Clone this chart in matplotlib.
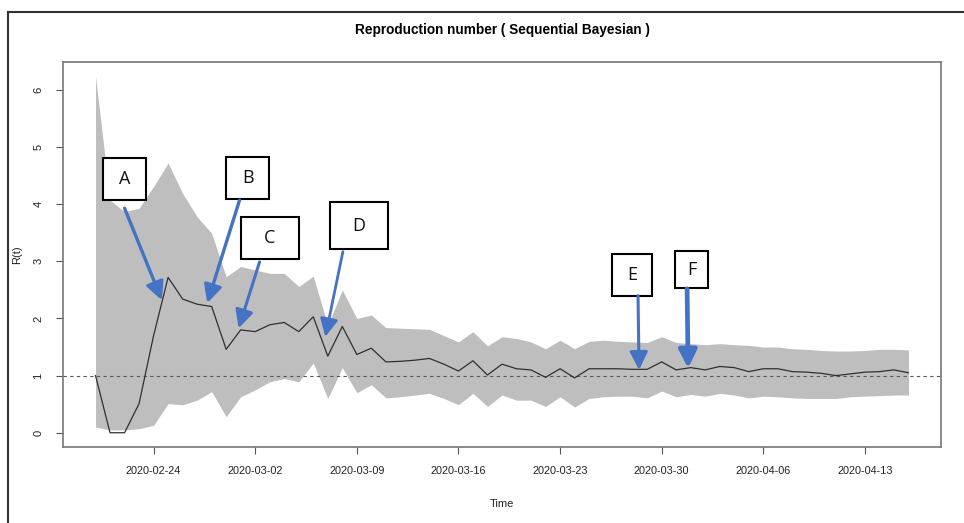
import numpy as np
import pandas as pd
import matplotlib
matplotlib.use("Agg")
import matplotlib.pyplot as plt
import matplotlib.dates as mdates
from matplotlib.patches import Rectangle
from matplotlib.lines import Line2D

# ---------------- data ----------------
start_date = "2020-02-20"
r_mean = [1.00, 0.00, 0.00, 0.51, 1.70, 2.72, 2.34, 2.25, 2.21, 1.46,
          1.80, 1.77, 1.89, 1.93, 1.77, 2.03, 1.34, 1.86, 1.37, 1.48,
          1.24, 1.25, 1.27, 1.30, 1.20, 1.08, 1.26, 1.01, 1.20, 1.12,
          1.10, 0.97, 1.12, 0.96, 1.12, 1.12, 1.12, 1.11, 1.11, 1.24,
          1.10, 1.14, 1.10, 1.16, 1.14, 1.07, 1.12, 1.12, 1.07, 1.06,
          1.04, 1.00, 1.03, 1.06, 1.07, 1.10, 1.05]
r_upper = [6.24, 4.07, 3.87, 3.93, 4.31, 4.72, 4.19, 3.78, 3.49, 2.73,
           2.91, 2.85, 2.79, 2.79, 2.56, 2.74, 1.88, 2.50, 2.00, 2.06,
           1.84, 1.83, 1.82, 1.81, 1.70, 1.59, 1.77, 1.52, 1.68, 1.65,
           1.59, 1.47, 1.62, 1.47, 1.60, 1.62, 1.60, 1.59, 1.58, 1.68,
           1.58, 1.56, 1.54, 1.56, 1.54, 1.53, 1.50, 1.50, 1.47, 1.46,
           1.44, 1.43, 1.43, 1.44, 1.46, 1.46, 1.45]
r_lower = [0.10, 0.05, 0.05, 0.07, 0.13, 0.51, 0.49, 0.57, 0.72, 0.28,
           0.63, 0.75, 0.89, 0.95, 0.89, 1.22, 0.60, 1.14, 0.70, 0.84,
           0.61, 0.63, 0.66, 0.69, 0.60, 0.49, 0.69, 0.46, 0.66, 0.57,
           0.57, 0.46, 0.63, 0.45, 0.60, 0.63, 0.64, 0.64, 0.61, 0.73,
           0.63, 0.67, 0.64, 0.69, 0.66, 0.61, 0.64, 0.63, 0.61, 0.60,
           0.60, 0.60, 0.63, 0.64, 0.65, 0.66, 0.66]
x_tick_labels = ["2020-02-24", "2020-03-02", "2020-03-09", "2020-03-16",
                 "2020-03-23", "2020-03-30", "2020-04-06", "2020-04-13"]
y_ticks = [0, 1, 2, 3, 4, 5, 6]

# annotation letters: box centre (day offset, y, w px, h px), arrow tail/tip (day, y), arrow width
annot_labels = ["A", "B", "C", "D", "E", "F"]
annot_box = [(2.0, 4.44, 43, 42), (10.48, 4.46, 43, 42), (11.99, 3.41, 58, 42),
             (18.13, 3.62, 58, 47), (36.97, 2.76, 40, 42), (41.08, 2.85, 33, 37)]
annot_tail = [(2.0, 3.93), (9.92, 4.07), (11.30, 2.99), (17.04, 3.17), (37.37, 2.40), (40.75, 2.52)]
annot_tip = [(4.57, 2.32), (7.70, 2.27), (9.86, 1.83), (15.83, 1.68), (37.44, 1.10), (40.82, 1.13)]
annot_lw = [2.4, 2.4, 2.2, 2.0, 2.2, 3.4]

# ---------------- figure ----------------
W, H = 964, 523
fig = plt.figure(figsize=(W / 100, H / 100), dpi=100)
fig.patch.set_facecolor("white")
ax = fig.add_axes([63 / W, (H - 447) / H, (941 - 63) / W, (447 - 62) / H])

dates = pd.date_range(start_date, periods=len(r_mean), freq="D")
t0 = pd.Timestamp(start_date)

ax.fill_between(dates, r_lower, r_upper, color="#bebebe", lw=0, zorder=1)
ax.plot(dates, r_mean, color="#2f2f2f", lw=0.9, zorder=3)
ax.axhline(1, color="#5a5a5a", lw=0.8, ls=(0, (3, 3)), zorder=2)

# R-style 4% padding
span = (dates[-1] - dates[0])
pad = span * 0.04
ax.set_xlim(dates[0] - pad, dates[-1] + pad)
ymin, ymax = min(r_lower + r_mean), max(r_upper)
ypad = (ymax - ymin) * 0.04
ax.set_ylim(ymin - ypad, ymax + ypad)

# ticks
ax.set_xticks(pd.to_datetime(x_tick_labels))
ax.set_xticklabels(x_tick_labels, fontsize=7.8, family="Liberation Sans", color="#222222")
ax.set_yticks(y_ticks)
ax.set_yticklabels([str(v) for v in y_ticks], fontsize=8, family="Liberation Sans",
                   rotation=90, va="center", color="#222222")
ax.tick_params(axis="x", direction="out", length=5, width=0.8, color="#555555", pad=9)
ax.tick_params(axis="y", direction="out", length=5, width=0.8, color="#555555", pad=9)
for s in ax.spines.values():
    s.set_color("#777777")
    s.set_linewidth(1.2)

ax.set_xlabel("Time", fontsize=8, family="Liberation Sans", labelpad=16, color="#222222")
ax.set_ylabel("R(t)", fontsize=8, family="Liberation Sans", labelpad=8, color="#222222")
fig.text(502 / W, 1 - 30 / H, "Reproduction number ( Sequential Bayesian )",
         ha="center", va="center", fontsize=9.8, fontweight="bold", family="Liberation Sans")

# pixel → data scales for box sizes
px_per_day = (941 - 63) / ((span + 2 * pad) / pd.Timedelta(days=1))
px_per_unit = (447 - 62) / (ax.get_ylim()[1] - ax.get_ylim()[0])

blue = "#4472C4"
for lab, (bx, by, bw, bh), tail, tip, lw in zip(annot_labels, annot_box, annot_tail, annot_tip, annot_lw):
    cx = mdates.date2num(t0 + pd.Timedelta(days=bx))
    wd = bw / px_per_day
    ht = bh / px_per_unit
    ax.add_patch(Rectangle((cx - wd / 2, by - ht / 2), wd, ht, facecolor="white",
                           edgecolor="black", lw=1.5, zorder=6))
    ax.text(cx, by, lab, ha="center", va="center", fontsize=13, family="Open Sans",
            color="#111111", zorder=7)
    ax.annotate("", xy=(t0 + pd.Timedelta(days=tip[0]), tip[1]),
                xytext=(t0 + pd.Timedelta(days=tail[0]), tail[1]),
                arrowprops=dict(arrowstyle="-|>,head_length=0.9,head_width=0.45",
                                color=blue, lw=lw, shrinkA=0, shrinkB=0,
                                mutation_scale=12),
                zorder=8)

# outer frame of the image
fig.add_artist(Line2D([8 / W, 1], [1 - 12 / H, 1 - 12 / H], transform=fig.transFigure,
                      color="#333333", lw=1.5))
fig.add_artist(Line2D([8 / W, 8 / W], [0, 1 - 12 / H], transform=fig.transFigure,
                      color="#333333", lw=1.5))

fig.savefig("out.png", dpi=100)
